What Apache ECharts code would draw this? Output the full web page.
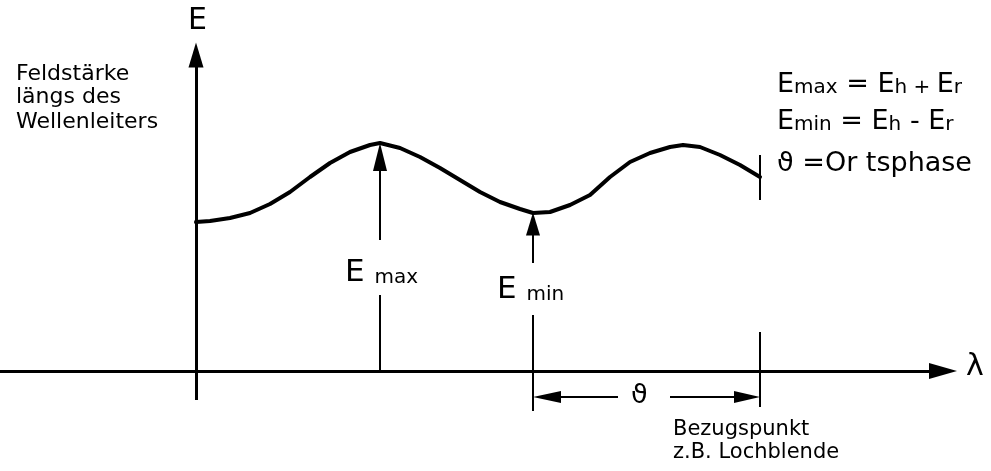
<!DOCTYPE html>
<html>
<head>
<meta charset="utf-8">
<script src="https://cdn.jsdelivr.net/npm/echarts@6/dist/echarts.min.js"></script>
<style>
html, body { margin: 0; padding: 0; background: #fff; }
#chart { width: 991px; height: 471px; }
</style>
</head>
<body>
<div id="chart"></div>
<script>
// Feldstärke längs des Wellenleiters (Stehwelle)
var lam   = [0, 14, 34, 54, 74, 94, 114, 134, 154, 174, 184, 204, 224, 244, 264, 284,
             304, 324, 337, 354, 374, 394, 414, 434, 454, 474, 487, 504, 524, 544, 564];
var field = [149, 150, 153, 158, 167, 179, 194, 208, 219, 226, 228, 223, 214, 203, 191, 179,
             169, 162, 158, 159, 166, 176, 194, 209, 218, 224, 226, 224, 216, 206, 194];

var iMax = 10;               // E max
var iMin = 18;               // E min
var iEnd = lam.length - 1;   // Bezugspunkt

var ink = '#000';
var font = '"DejaVu Sans", sans-serif';

var chart = echarts.init(document.getElementById('chart'));

function seg(x1, y1, x2, y2, w, s1, s2) {
    var a = { coord: [x1, y1], symbol: 'none' };
    var b = { coord: [x2, y2], symbol: 'none' };
    if (s1) { a.symbol = 'triangle'; a.symbolSize = s1; }
    if (s2) { b.symbol = 'triangle'; b.symbolSize = s2; }
    a.lineStyle = { color: ink, width: w, type: 'solid' };
    return [a, b];
}

var xMax = lam[iMax], xMin = lam[iMin], xRef = lam[iEnd];

var lines = [
    // Achsen
    seg(-196, 0, 761 - 14, 0, 3, null, [16, 28]),
    seg(0, -29, 0, 328 - 12, 3, null, [15, 25]),
    // E max
    seg(xMax, 131, xMax, field[iMax] - 14, 2, null, [14, 28]),
    seg(xMax, 0, xMax, 76, 2),
    // E min
    seg(xMin, 108, xMin, field[iMin] - 11, 2, null, [14, 23]),
    seg(xMin, -40, xMin, 56, 2),
    // Bezugspunkt
    seg(xRef, 171, xRef, 216, 2),
    seg(xRef, -36, xRef, 39, 2),
    // Ortsphase
    seg(xMin + 14, -26, 422, -26, 2, [12, 28], null),
    seg(474, -26, xRef - 13, -26, 2, null, [12, 26])
];

function txt(x, y, text, size, rich) {
    return {
        type: 'text', x: x, y: y, silent: true,
        style: {
            text: text, fill: ink, font: size + 'px ' + font,
            verticalAlign: 'middle', rich: rich
        }
    };
}

var sub = { fontSize: 20, fontFamily: font, fill: ink, verticalAlign: 'bottom', lineHeight: 30 };
var big = { fontSize: 27, fontFamily: font, fill: ink, verticalAlign: 'bottom', lineHeight: 30 };
var bigE = { fontSize: 31, fontFamily: font, fill: ink, verticalAlign: 'bottom', lineHeight: 34 };
var sub2 = { fontSize: 20, fontFamily: font, fill: ink, verticalAlign: 'bottom', lineHeight: 34 };

var option = {
    animation: false,
    backgroundColor: '#fff',
    grid: { left: 0, right: 0, top: 0, bottom: 0 },
    xAxis: { type: 'value', min: -196, max: 795, show: false },
    yAxis: { type: 'value', min: -100, max: 371, show: false },
    series: [{
        type: 'line',
        data: lam.map(function (x, i) { return [x, field[i]]; }),
        smooth: false,
        symbol: 'none',
        silent: true,
        lineStyle: { color: ink, width: 4, join: 'round', cap: 'round' },
        markLine: {
            silent: true,
            animation: false,
            label: { show: false },
            data: lines
        }
    }],
    graphic: [
        txt(188, 21, 'E', 30),
        txt(966, 367, 'λ', 30),
        txt(16, 74, 'Feldstärke', 22),
        txt(16, 97, 'längs des', 22),
        txt(16, 122, 'Wellenleiters', 22),
        txt(345, 271, '{e|E} {s|max}', 31, { e: bigE, s: sub2 }),
        txt(497, 288, '{e|E} {s|min}', 31, { e: bigE, s: sub2 }),
        txt(777, 83, '{b|E}{s|max}{b| = E}{s|h}{s| + }{b|E}{s|r}', 27, { b: big, s: sub }),
        txt(777, 120, '{b|E}{s|min}{b| = E}{s|h}{b| - E}{s|r}', 27, { b: big, s: sub }),
        txt(777, 164, 'ϑ =Or tsphase', 27),
        txt(631, 396, 'ϑ', 27),
        txt(673, 430, 'Bezugspunkt', 21),
        txt(673, 453, 'z.B. Lochblende', 21)
    ]
};

chart.setOption(option);
</script>
</body>
</html>
